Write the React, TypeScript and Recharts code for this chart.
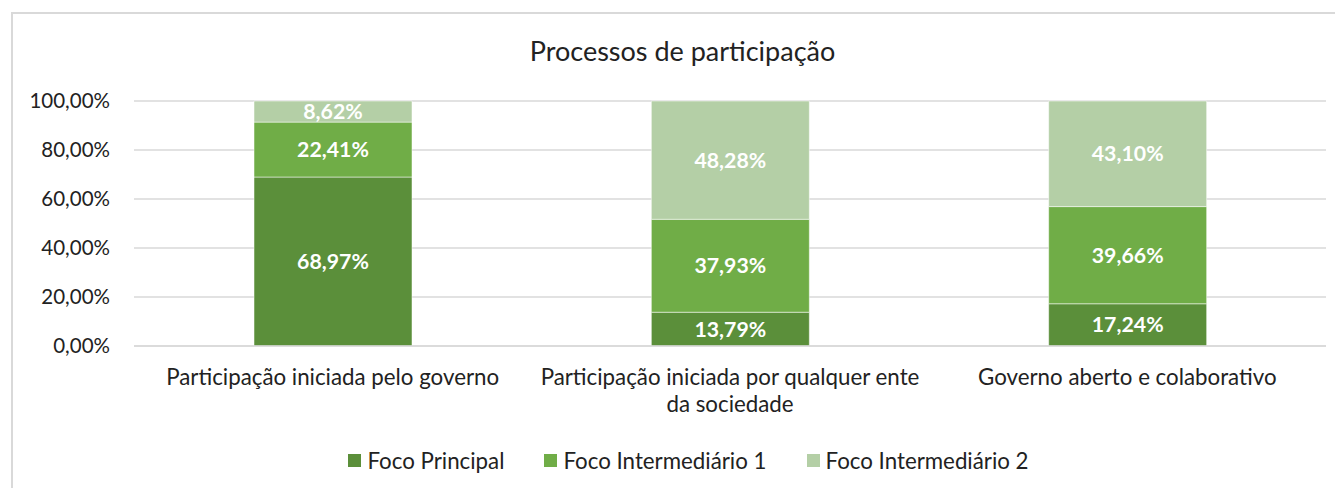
import React from 'react';
import { BarChart, Bar, XAxis, YAxis, CartesianGrid, Legend, LabelList } from 'recharts';

const categories = [
  'Participação iniciada pelo governo',
  'Participação iniciada por qualquer ente da sociedade',
  'Governo aberto e colaborativo',
];
const focoPrincipal = [68.97, 13.79, 17.24];
const focoIntermediario1 = [22.41, 37.93, 39.66];
const focoIntermediario2 = [8.62, 48.28, 43.1];
const yTicks = [0, 20, 40, 60, 80, 100];

const seriesNames = ['Foco Principal', 'Foco Intermediário 1', 'Foco Intermediário 2'];
const colors = ['#5b8f3a', '#70ad47', '#b4cfa6'];

const data = categories.map((c, i) => ({
  name: c,
  p: focoPrincipal[i],
  i1: focoIntermediario1[i],
  i2: focoIntermediario2[i],
}));

const FONT = 'Lato, "Noto Sans", sans-serif';
const fmt = (v: number) => v.toFixed(2).replace('.', ',') + '%';

const wrap = (s: string, max: number) => {
  const words = s.split(' ');
  const lines: string[] = [];
  let cur = '';
  for (const w of words) {
    const t = cur ? cur + ' ' + w : w;
    if (t.length > max && cur) {
      lines.push(cur);
      cur = w;
    } else cur = t;
  }
  if (cur) lines.push(cur);
  return lines;
};

const XTick = (props: any) => {
  const { x, y, payload } = props;
  const lines = wrap(String(payload.value), 40);
  return (
    <text
      x={x}
      y={y + 31}
      textAnchor="middle"
      fill="#222"
      style={{ fontFamily: FONT, fontSize: 22.3 }}
    >
      {lines.map((l, i) => (
        <tspan key={i} x={x} dy={i === 0 ? 0 : 27}>
          {l}
        </tspan>
      ))}
    </text>
  );
};

const LegendContent = (props: any) => {
  const payload = [...(props.payload || [])].sort(
    (a: any, b: any) => seriesNames.indexOf(a.value) - seriesNames.indexOf(b.value)
  );
  return (
    <div style={{ display: 'flex', justifyContent: 'center', fontFamily: FONT, fontSize: 22.3, color: '#222', paddingLeft: 43 }}>
      {payload.map((e: any, idx: number) => (
        <div key={idx} style={{ display: 'flex', alignItems: 'center', marginRight: idx < payload.length - 1 ? 40 : 0 }}>
          <span style={{ display: 'inline-block', width: 13, height: 13, background: e.color, marginRight: 6 }} />
          <span>{e.value}</span>
        </div>
      ))}
    </div>
  );
};

export default function App() {
  return (
    <div style={{ position: 'relative', width: 1335, height: 480, fontFamily: FONT }}>
      <div
        style={{
          position: 'absolute',
          left: 3,
          top: 4,
          width: 1332,
          height: 476,
          borderLeft: '2px solid #d9d9d9',
          borderTop: '2px solid #d9d9d9',
          boxSizing: 'border-box',
        }}
      />
      <div
        style={{
          position: 'absolute',
          left: 7,
          top: 26,
          width: 1335,
          textAlign: 'center',
          fontSize: 27,
          color: '#222',
          fontFamily: FONT,
        }}
      >
        Processos de participação
      </div>
      <BarChart
        width={1335}
        height={480}
        data={data}
        margin={{ top: 93, right: 17, left: 0, bottom: 45 }}
        style={{ position: 'absolute', left: 0, top: 0 }}
      >
        <CartesianGrid vertical={false} stroke="#d9d9d9" strokeWidth={1.5} />
        <XAxis
          dataKey="name"
          tick={<XTick />}
          tickLine={false}
          axisLine={{ stroke: '#d9d9d9', strokeWidth: 1.5 }}
          height={70}
          interval={0}
        />
        <YAxis
          width={126}
          domain={[0, 100]}
          ticks={yTicks}
          tickFormatter={(v: number) => fmt(v)}
          tickLine={false}
          axisLine={false}
          tickMargin={18}
          tick={{ fill: '#222', fontSize: 20.5, fontFamily: FONT }}
        />
        <Legend
          verticalAlign="bottom"
          content={<LegendContent />}
          wrapperStyle={{ bottom: 14 }}
        />
        {(['p', 'i1', 'i2'] as const).map((k, idx) => (
          <Bar
            key={k}
            dataKey={k}
            name={seriesNames[idx]}
            stackId="a"
            fill={colors[idx]}
            stroke="#ffffff"
            strokeOpacity={0.5}
            strokeWidth={1}
            barSize={158}
            isAnimationActive={false}
          >
            <LabelList
              dataKey={k}
              position="center"
              formatter={(v: any) => fmt(Number(v))}
              fill="#ffffff"
              style={{ fontFamily: FONT, fontSize: 21.3, fontWeight: 700 }}
            />
          </Bar>
        ))}
      </BarChart>
    </div>
  );
}
